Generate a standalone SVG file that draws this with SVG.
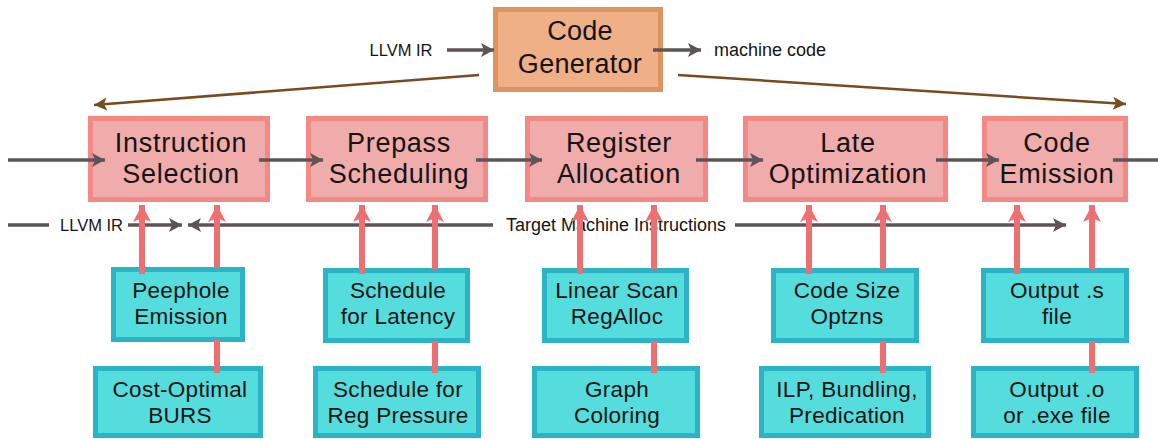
<svg xmlns="http://www.w3.org/2000/svg" width="1158" height="439" viewBox="0 0 1158 439">
<style>
text{font-family:"Liberation Sans",Arial,sans-serif;fill:#141414;text-anchor:middle}
.big{font-size:27px;letter-spacing:0.7px}
.gtx{font-size:27px;letter-spacing:0.3px}
.small{font-size:22.5px;letter-spacing:0.3px}
.lbl{font-size:18px}
.pink rect{fill:#f0abab;stroke:#f48885;stroke-width:5}
.gen rect{fill:#efb088;stroke:#dc9560;stroke-width:5}
.teal rect{fill:#55dcdc;stroke:#2db3c6;stroke-width:5}
.g{stroke:#5e5456;stroke-width:3.5;fill:none;marker-end:url(#ag)}
.gn{stroke:#5e5456;stroke-width:3.5;fill:none}
.b{stroke:#7a4a20;stroke-width:2.5;fill:none;marker-end:url(#ab)}
.p{stroke:#ee6f70;stroke-width:6;fill:none;marker-end:url(#ap)}
</style>
<defs>
<marker id="ag" markerUnits="userSpaceOnUse" markerWidth="14" markerHeight="15" refX="13" refY="7" orient="auto" overflow="visible">
<path d="M0,0 L13,7 L0,14 L3,7 z" fill="#5e5456"/>
</marker>
<marker id="ab" markerUnits="userSpaceOnUse" markerWidth="14" markerHeight="15" refX="13" refY="6.5" orient="auto" overflow="visible">
<path d="M0,0 L13,6.5 L0,13 L3,6.5 z" fill="#7a4a20"/>
</marker>
<marker id="ap" markerUnits="userSpaceOnUse" markerWidth="18" markerHeight="19" refX="17" refY="9" orient="auto" overflow="visible">
<path d="M0,0 L17,9 L0,18 L4,9 z" fill="#ee6f70"/>
</marker>
</defs>

<g id="code-generator" class="gen">
<rect x="495.5" y="9.5" width="165" height="80"/>
<text class="gtx" x="580" y="40">Code<tspan x="580" dy="33">Generator</tspan></text>
</g>

<g id="instruction-selection" class="pink">
<rect x="90.5" y="118.5" width="177" height="81"/>
<text class="big" x="181" y="152">Instruction<tspan x="181" dy="31">Selection</tspan></text>
</g>
<g id="prepass-scheduling" class="pink">
<rect x="308.5" y="118.5" width="177" height="81"/>
<text class="big" x="399" y="152">Prepass<tspan x="399" dy="31">Scheduling</tspan></text>
</g>
<g id="register-allocation" class="pink">
<rect x="527.5" y="118.5" width="178" height="81"/>
<text class="big" x="619" y="152">Register<tspan x="619" dy="31">Allocation</tspan></text>
</g>
<g id="late-optimization" class="pink">
<rect x="745.5" y="118.5" width="200" height="81"/>
<text class="big" x="848" y="152">Late<tspan x="848" dy="31">Optimization</tspan></text>
</g>
<g id="code-emission" class="pink">
<rect x="984.5" y="118.5" width="141" height="81"/>
<text class="big" x="1057" y="152">Code<tspan x="1057" dy="31">Emission</tspan></text>
</g>

<g id="peephole-emission" class="teal">
<rect x="113.5" y="269.5" width="129" height="70"/>
<text class="small" x="181" y="298">Peephole<tspan x="181" dy="26">Emission</tspan></text>
</g>
<g id="cost-optimal-burs" class="teal">
<rect x="95.5" y="368.5" width="165" height="67"/>
<text class="small" x="180" y="397">Cost-Optimal<tspan x="180" dy="26">BURS</tspan></text>
</g>
<g id="schedule-latency" class="teal">
<rect x="325.5" y="270.5" width="142" height="70"/>
<text class="small" x="398" y="298">Schedule<tspan x="398" dy="26">for Latency</tspan></text>
</g>
<g id="schedule-reg-pressure" class="teal">
<rect x="315.5" y="368.5" width="163" height="67"/>
<text class="small" x="398" y="397">Schedule for<tspan x="398" dy="26">Reg Pressure</tspan></text>
</g>
<g id="linear-scan" class="teal">
<rect x="544.5" y="270.5" width="142" height="70"/>
<text class="small" x="617" y="298">Linear Scan<tspan x="617" dy="26">RegAlloc</tspan></text>
</g>
<g id="graph-coloring" class="teal">
<rect x="534.5" y="368.5" width="163" height="67"/>
<text class="small" x="617" y="397">Graph<tspan x="617" dy="26">Coloring</tspan></text>
</g>
<g id="code-size" class="teal">
<rect x="773.5" y="270.5" width="143" height="70"/>
<text class="small" x="847" y="298">Code Size<tspan x="847" dy="26">Optzns</tspan></text>
</g>
<g id="ilp-bundling" class="teal">
<rect x="761.5" y="368.5" width="167" height="67"/>
<text class="small" x="847" y="397">ILP, Bundling,<tspan x="847" dy="26">Predication</tspan></text>
</g>
<g id="output-s" class="teal">
<rect x="983.5" y="270.5" width="143" height="70"/>
<text class="small" x="1057" y="298">Output .s<tspan x="1057" dy="26">file</tspan></text>
</g>
<g id="output-o" class="teal">
<rect x="973.5" y="368.5" width="163" height="67"/>
<text class="small" x="1057" y="397">Output .o<tspan x="1057" dy="26">or .exe file</tspan></text>
</g>

<g id="connectors">
<text class="lbl" x="401" y="56" style="font-size:16.5px">LLVM IR</text>
<path class="g" d="M447,50 H494"/>
<path class="g" d="M653,50 H701"/>
<text class="lbl" x="770" y="56">machine code</text>
<path class="b" d="M479,75 L94,105"/>
<path class="b" d="M678,75 L1126,104"/>
<path class="g" d="M8,160 H105"/>
<path class="g" d="M259,160 H323"/>
<path class="g" d="M476,160 H542"/>
<path class="g" d="M696,160 H763"/>
<path class="g" d="M936,160 H999"/>
<path class="gn" d="M1113,160 H1158"/>
<path class="gn" d="M8,225 H49"/>
<text class="lbl" x="91.5" y="231" style="font-size:16.5px">LLVM IR</text>
<path class="g" d="M128,225 H182"/>
<path class="g" d="M493,225 H188"/>
<text class="lbl" x="616" y="231">Target Machine Instructions</text>
<path class="g" d="M735,225 H1066"/>
<path class="p" d="M142,274 V205"/>
<path class="p" d="M217,373 V340 M217,268 V205"/>
<path class="p" d="M362,274 V205"/>
<path class="p" d="M435,373 V341 M435,269 V205"/>
<path class="p" d="M580,274 V205"/>
<path class="p" d="M654,373 V341 M654,269 V205"/>
<path class="p" d="M809,274 V205"/>
<path class="p" d="M883,373 V341 M883,269 V205"/>
<path class="p" d="M1017,274 V205"/>
<path class="p" d="M1092,373 V341 M1092,269 V205"/>
</g>
</svg>
